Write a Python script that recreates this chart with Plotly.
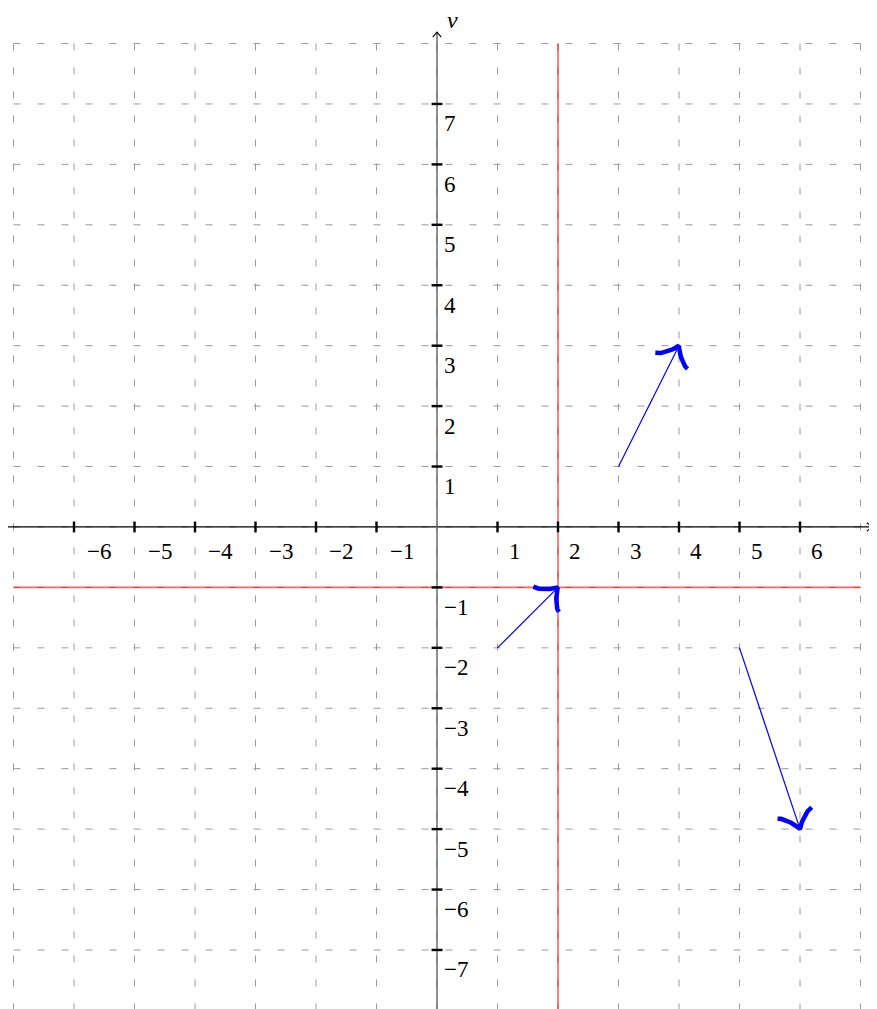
import numpy as np
import plotly.graph_objects as go

# ---- data ----
x_ticks = [-6, -5, -4, -3, -2, -1, 1, 2, 3, 4, 5, 6]
y_ticks = [-7, -6, -5, -4, -3, -2, -1, 1, 2, 3, 4, 5, 6, 7]
grid_x = list(range(-7, 8))
grid_y = list(range(-8, 9))
red_x = 2
red_y = -1
vec_x0 = [3, 1, 5]
vec_y0 = [1, -2, -2]
vec_x1 = [4, 2, 6]
vec_y1 = [3, -1, -5]
x_label = "u"
y_label = "v"

# ---- style ----
# the page body has an 8px margin, so the ranges are offset to compensate
X_RANGE = [-7.091, 7.405]
Y_RANGE = [-8.109, 8.588]
GRID_COLOR = "#9a9a9a"
BLUE = "#0000ff"
RED = "rgba(255,0,0,0.62)"
FONT = "Liberation Serif"

fig = go.Figure()

# grid
gx, gy = [], []
for v in grid_x:
    gx += [v, v, None]
    gy += [grid_y[-1], grid_y[0], None]
for v in grid_y:
    gx += [grid_x[0], grid_x[-1], None]
    gy += [v, v, None]
fig.add_trace(go.Scatter(x=gx, y=gy, mode="lines",
                         line=dict(color=GRID_COLOR, width=1, dash="7px,17px"),
                         hoverinfo="skip", showlegend=False))

# red lines
fig.add_trace(go.Scatter(x=[red_x, red_x, None, grid_x[0], grid_x[-1]],
                         y=[grid_y[-1], Y_RANGE[0] - 1, None, red_y, red_y],
                         mode="lines", line=dict(color=RED, width=1.6),
                         hoverinfo="skip", showlegend=False))

# axes
x_end = 7.19
y_end = 8.19
fig.add_trace(go.Scatter(x=[-7.1, x_end], y=[0, 0], mode="lines",
                         line=dict(color="black", width=1.3),
                         hoverinfo="skip", showlegend=False))
fig.add_trace(go.Scatter(x=[0, 0], y=[Y_RANGE[0] - 1, y_end], mode="lines",
                         line=dict(color="#6a6a6a", width=1.5),
                         hoverinfo="skip", showlegend=False))
# small axis arrow tips
ah, aw = 0.085, 0.07
fig.add_trace(go.Scatter(x=[x_end - ah, x_end, x_end - ah, None, -aw, 0, aw],
                         y=[aw, 0, -aw, None, y_end - ah, y_end, y_end - ah],
                         mode="lines", line=dict(color="black", width=1.1),
                         hoverinfo="skip", showlegend=False))

# tick marks
tl = 0.09
tx, ty = [], []
for v in x_ticks:
    tx += [v, v, None]
    ty += [-tl, tl, None]
for v in y_ticks:
    tx += [-tl, tl, None]
    ty += [v, v, None]
fig.add_trace(go.Scatter(x=tx, y=ty, mode="lines",
                         line=dict(color="black", width=2.4),
                         hoverinfo="skip", showlegend=False))


def fmt(v):
    return ("\u2212" + str(-v)) if v < 0 else str(v)


annotations = []
for v in x_ticks:
    annotations.append(dict(x=v, y=0, text=fmt(v), showarrow=False,
                            xanchor="left", yanchor="middle",
                            xshift=11 if v < 0 else 9, yshift=-25,
                            font=dict(family=FONT, size=23, color="black")))
for v in y_ticks:
    annotations.append(dict(x=0, y=v, text=fmt(v), showarrow=False,
                            xanchor="left", yanchor="middle", xshift=5, yshift=-20,
                            font=dict(family=FONT, size=23, color="black")))
annotations.append(dict(x=0, y=y_end, text="<i>" + y_label + "</i>", showarrow=False,
                        xanchor="left", yanchor="bottom", xshift=8, yshift=-3,
                        font=dict(family=FONT, size=24, color="black")))
annotations.append(dict(x=x_end, y=0, text="<i>" + x_label + "</i>", showarrow=False,
                        xanchor="left", yanchor="middle", xshift=-2, yshift=-24,
                        font=dict(family=FONT, size=24, color="black")))


# vectors with TikZ "to"-style heads
def bez(p, n=24):
    t = np.linspace(0, 1, n)[:, None]
    p = np.array(p, dtype=float)
    return ((1 - t) ** 3) * p[0] + 3 * ((1 - t) ** 2) * t * p[1] + 3 * (1 - t) * t ** 2 * p[2] + t ** 3 * p[3]


def head(x0, y0, x1, y1, scale=0.0745):
    d = np.array([x1 - x0, y1 - y0], dtype=float)
    d /= np.linalg.norm(d)
    nrm = np.array([-d[1], d[0]])
    tip = np.array([x1, y1], dtype=float)
    arm1 = bez([(-3.75, 4), (-3.5, 2.5), (-0.75, 0.25), (0, 0)])
    arm2 = bez([(0, 0), (-0.75, -0.25), (-3.5, -2.5), (-3.75, -4)])
    loc = np.vstack([arm1, arm2[1:]])
    pts = tip + scale * (loc[:, :1] * d + loc[:, 1:] * nrm)
    return pts[:, 0], pts[:, 1]


for a, b, c, e in zip(vec_x0, vec_y0, vec_x1, vec_y1):
    fig.add_trace(go.Scatter(x=[a, c], y=[b, e], mode="lines",
                             line=dict(color=BLUE, width=1.2),
                             hoverinfo="skip", showlegend=False))
    hx, hy = head(a, b, c, e)
    fig.add_trace(go.Scatter(x=hx, y=hy, mode="lines",
                             line=dict(color=BLUE, width=4.5),
                             hoverinfo="skip", showlegend=False))

fig.update_layout(
    width=877, height=1009,
    margin=dict(l=0, r=0, t=0, b=0),
    paper_bgcolor="white", plot_bgcolor="white",
    xaxis=dict(range=X_RANGE, visible=False, fixedrange=True),
    yaxis=dict(range=Y_RANGE, visible=False, fixedrange=True),
    annotations=annotations,
    showlegend=False,
)

fig.write_html("out.html")
